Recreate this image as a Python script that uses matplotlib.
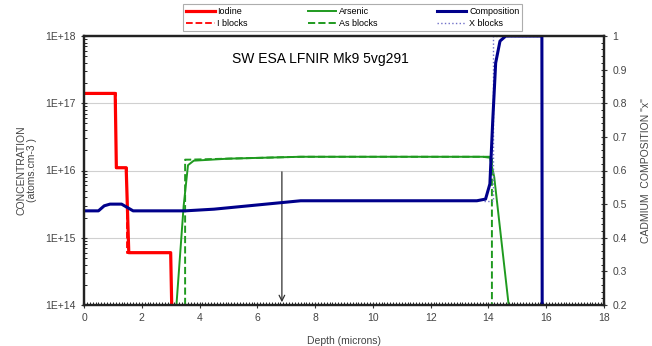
import matplotlib
matplotlib.use("Agg")
import matplotlib.pyplot as plt
from matplotlib.ticker import MultipleLocator, LogLocator, NullFormatter, FixedLocator

plt.rcParams['font.family'] = ['Liberation Sans', 'DejaVu Sans']

# Data
iod_x = [0.0, 1.08, 1.12, 1.46, 1.55, 3.0, 3.05]
iod_y = [1.4e17, 1.4e17, 1.1e16, 1.1e16, 6e14, 6e14, 5e13]

iblk_x = [0.0, 1.1, 1.1, 1.5, 1.5, 3.02, 3.02]
iblk_y = [1.4e17, 1.4e17, 1.1e16, 1.1e16, 6e14, 6e14, 5e13]

as_x = [3.2, 3.45, 3.6, 3.8, 5.0, 7.5, 13.8, 14.05, 14.2, 14.7]
as_y = [1e14, 3e15, 1.2e16, 1.4e16, 1.5e16, 1.6e16, 1.6e16, 1.55e16, 8e15, 1e14]

asblk_x = [3.5, 3.5, 3.65, 7.5, 14.12, 14.12]
asblk_y = [1e14, 1.45e16, 1.45e16, 1.6e16, 1.6e16, 1e14]

comp_x = [0.0, 0.5, 0.7, 0.9, 1.3, 1.5, 1.7, 3.5, 4.5, 7.5, 13.6, 13.9, 14.05,
          14.15, 14.25, 14.4, 14.6, 15.85, 15.86]
comp_y = [0.48, 0.48, 0.495, 0.50, 0.50, 0.49, 0.48, 0.48, 0.485, 0.51, 0.51,
          0.515, 0.56, 0.75, 0.92, 0.985, 1.0, 1.0, 0.2]

xblk_x = [13.85, 14.15, 14.15, 15.85]
xblk_y = [0.51, 0.51, 1.0, 1.0]

arrow_x = 6.85
arrow_top = 1.05e16
arrow_bottom = 1.0e14

title = "SW ESA LFNIR Mk9 5vg291"

fig = plt.figure(figsize=(6.52, 3.46), dpi=100)
ax = fig.add_axes([84/652, 1-305/346, (604-84)/652, (305-36)/346])
ax2 = ax.twinx()

ax.set_yscale('log')
ax.set_xlim(0, 18)
ax.set_ylim(1e14, 1e18)
ax2.set_ylim(0.2, 1.0)

ax.grid(axis='y', which='major', color='#d0d0d0', lw=0.8)

red = '#ff0000'
green = '#1f9a1f'
navy = '#00008b'
h1, = ax.plot(iod_x, iod_y, color=red, lw=2.3, label='Iodine')
h2, = ax.plot(iblk_x, iblk_y, color=red, lw=1.3, ls='--', label='I blocks')
h3, = ax.plot(as_x, as_y, color=green, lw=1.4, label='Arsenic')
h4, = ax.plot(asblk_x, asblk_y, color=green, lw=1.4, ls='--', label='As blocks')
h6, = ax2.plot(xblk_x, xblk_y, color='#7070c8', lw=1.0, ls=':', label='X blocks')
h5, = ax2.plot(comp_x, comp_y, color=navy, lw=2.2, label='Composition')

ax.annotate('', xy=(arrow_x, arrow_bottom), xytext=(arrow_x, arrow_top),
            arrowprops=dict(arrowstyle='->', color='#303030', lw=0.9))

ax.text(0.455, 0.915, title, transform=ax.transAxes, ha='center', va='center',
        fontsize=10)

# ticks
ax.xaxis.set_major_locator(MultipleLocator(2))
ax.xaxis.set_minor_locator(MultipleLocator(0.1))
ax.yaxis.set_major_locator(FixedLocator([1e14, 1e15, 1e16, 1e17, 1e18]))
ax.yaxis.set_minor_locator(LogLocator(base=10, subs=range(2, 10), numticks=20))
ax.yaxis.set_minor_formatter(NullFormatter())
ax.set_yticklabels(['1E+14', '1E+15', '1E+16', '1E+17', '1E+18'])
ax2.yaxis.set_minor_locator(MultipleLocator(0.02))
ax2.set_yticks([0.2, 0.3, 0.4, 0.5, 0.6, 0.7, 0.8, 0.9, 1.0])
ax2.set_yticklabels(['0.2', '0.3', '0.4', '0.5', '0.6', '0.7', '0.8', '0.9', '1'])

for a in (ax, ax2):
    a.tick_params(which='major', direction='inout', length=5, width=0.8,
                  labelsize=7.5, colors='#333333', labelcolor='#444444')
    a.tick_params(which='minor', direction='in', length=2.5, width=0.6)
    for s in a.spines.values():
        s.set_linewidth(1.6)
        s.set_color('#222222')

ax.set_xlabel('Depth (microns)', fontsize=7.5, color='#444444', labelpad=9)
ax.set_ylabel('CONCENTRATION\n(atoms.cm-3 )', fontsize=7.5, color='#444444',
              labelpad=6, linespacing=1.1)
ax2.set_ylabel('CADMIUM  COMPOSITION "x"', fontsize=7.5, color='#444444',
               rotation=90, labelpad=10)

handles = [h1, h2, h3, h4, h5, h6]
leg = fig.legend(handles, [h.get_label() for h in handles], ncol=3,
                 loc='lower left',
                 bbox_to_anchor=(183/652, 1-31/346, (522-183)/652, 28/346),
                 mode='expand', fontsize=6.5, frameon=True, fancybox=False,
                 edgecolor='#999999', handlelength=3.2, handletextpad=0.3,
                 borderpad=0.3, labelspacing=0.35, columnspacing=1.0,
                 borderaxespad=0)
leg.get_frame().set_linewidth(0.8)

fig.savefig('out.png', dpi=100)
